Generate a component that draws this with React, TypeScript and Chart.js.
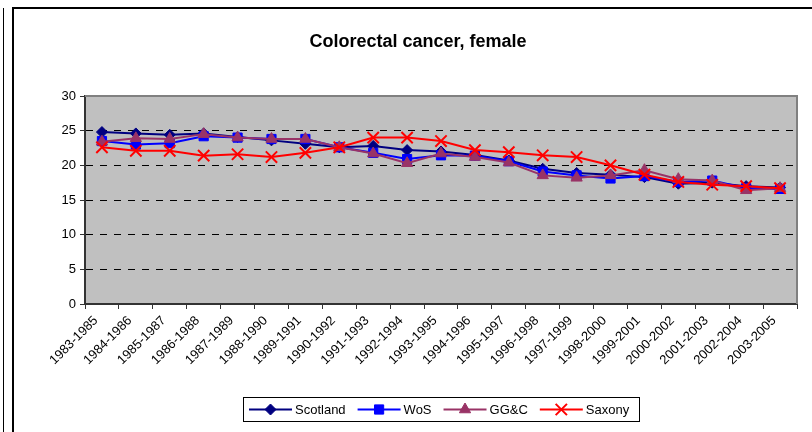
import React, { useEffect, useRef } from "react";
import { Chart, registerables } from "chart.js";

Chart.register(...registerables);

const categories = [
  "1983-1985", "1984-1986", "1985-1987", "1986-1988", "1987-1989", "1988-1990",
  "1989-1991", "1990-1992", "1991-1993", "1992-1994", "1993-1995", "1994-1996",
  "1995-1997", "1996-1998", "1997-1999", "1998-2000", "1999-2001", "2000-2002",
  "2001-2003", "2002-2004", "2003-2005",
];

const scotland = [24.8, 24.6, 24.4, 24.6, 24.1, 23.6, 23.1, 22.6, 22.8, 22.2, 22.0, 21.5, 20.7, 19.5, 18.9, 18.65, 18.3, 17.35, 17.5, 17.0, 16.8];
const wos = [23.5, 23.0, 23.2, 24.2, 24.0, 23.8, 23.8, 22.6, 21.8, 20.9, 21.45, 21.4, 20.6, 19.1, 18.55, 18.1, 18.45, 17.6, 17.8, 16.7, 16.6];
const ggc = [23.4, 23.9, 23.8, 24.5, 24.0, 23.8, 23.8, 22.6, 21.7, 20.3, 21.7, 21.2, 20.4, 18.55, 18.2, 18.55, 19.3, 18.0, 17.8, 16.4, 16.7];
const saxony = [22.6, 22.1, 22.1, 21.4, 21.6, 21.2, 21.8, 22.6, 24.0, 24.0, 23.5, 22.2, 21.9, 21.45, 21.2, 20.0, 18.65, 17.6, 17.2, 17.0, 16.7];

const seriesNames = ["Scotland", "WoS", "GG&C", "Saxony"];
const yTicks = [0, 5, 10, 15, 20, 25, 30];
const titleText = "Colorectal cancer, female";

const FONT = '"Liberation Sans", Arial, sans-serif';

function drawMarker(ctx: CanvasRenderingContext2D, style: string, x: number, y: number, r: number) {
  ctx.beginPath();
  if (style === "rectRot") {
    ctx.moveTo(x - r, y);
    ctx.lineTo(x, y - r);
    ctx.lineTo(x + r, y);
    ctx.lineTo(x, y + r);
    ctx.closePath();
    ctx.fill();
    ctx.stroke();
  } else if (style === "rect") {
    const s = Math.SQRT1_2 * r;
    ctx.rect(x - s, y - s, 2 * s, 2 * s);
    ctx.fill();
    ctx.stroke();
  } else if (style === "triangle") {
    for (let i = 0; i < 3; i++) {
      const a = (i * 2 * Math.PI) / 3;
      const px = x + Math.sin(a) * r;
      const py = y - Math.cos(a) * r;
      if (i === 0) ctx.moveTo(px, py);
      else ctx.lineTo(px, py);
    }
    ctx.closePath();
    ctx.fill();
    ctx.stroke();
  } else {
    const o = Math.SQRT1_2 * r;
    ctx.moveTo(x - o, y - o);
    ctx.lineTo(x + o, y + o);
    ctx.moveTo(x - o, y + o);
    ctx.lineTo(x + o, y - o);
    ctx.stroke();
  }
}

const decorPlugin = {
  id: "decor",
  beforeDraw(chart: any) {
    const ctx = chart.ctx;
    const { left, top, right, bottom } = chart.chartArea;
    ctx.save();
    ctx.fillStyle = "#ffffff";
    ctx.fillRect(0, 0, chart.width, chart.height);
    ctx.fillStyle = "#000000";
    ctx.fillRect(3, 8, 1, chart.height - 8);
    ctx.fillRect(12, 7, 2, chart.height - 7);
    ctx.fillRect(12, 7, chart.width - 12, 2);
    ctx.fillStyle = "#c0c0c0";
    ctx.fillRect(left, top, right - left, bottom - top);
    ctx.restore();
  },
  afterDraw(chart: any) {
    const ctx = chart.ctx;
    const { left, top, right, bottom } = chart.chartArea;
    ctx.save();
    ctx.strokeStyle = "#808080";
    ctx.lineWidth = 2;
    ctx.beginPath();
    ctx.moveTo(left, top);
    ctx.lineTo(right, top);
    ctx.lineTo(right, bottom);
    ctx.stroke();
    // title
    ctx.fillStyle = "#000";
    ctx.font = `bold 18px ${FONT}`;
    ctx.textAlign = "center";
    ctx.textBaseline = "middle";
    ctx.fillText(titleText, 418, 42);
    // legend
    const boxX = 243, boxY = 397, boxW = 396, boxH = 24;
    ctx.strokeStyle = "#000";
    ctx.lineWidth = 1;
    ctx.strokeRect(boxX + 0.5, boxY + 0.5, boxW, boxH);
    ctx.font = `13px ${FONT}`;
    ctx.textAlign = "left";
    const cy = boxY + boxH / 2 + 0.5;
    let x = 249;
    chart.data.datasets.forEach((ds: any) => {
      const lineLen = 43;
      ctx.strokeStyle = ds.borderColor;
      ctx.lineWidth = 2;
      ctx.beginPath();
      ctx.moveTo(x, cy);
      ctx.lineTo(x + lineLen, cy);
      ctx.stroke();
      ctx.fillStyle = ds.pointBackgroundColor;
      ctx.strokeStyle = ds.pointBorderColor;
      ctx.lineWidth = ds.pointBorderWidth;
      drawMarker(ctx, ds.pointStyle, x + lineLen / 2, cy, ds.pointRadius);
      ctx.fillStyle = "#000";
      ctx.fillText(ds.label, x + lineLen + 3, cy + 1);
      const w = ctx.measureText(ds.label).width;
      x = x + lineLen + 3 + w + 12;
    });
    ctx.restore();
  },
};

export default function App() {
  const ref = useRef<HTMLCanvasElement | null>(null);

  useEffect(() => {
    if (!ref.current) return;
    const mk = (label: string, data: number[], color: string, style: string, radius: number, order: number, bw = 1) => ({
      label,
      data,
      borderColor: color,
      backgroundColor: color,
      pointBackgroundColor: color,
      pointBorderColor: color,
      pointBorderWidth: bw,
      borderWidth: 2,
      pointStyle: style,
      pointRadius: radius,
      tension: 0,
      order,
    });
    const chart = new Chart(ref.current, {
      type: "line",
      data: {
        labels: categories,
        datasets: [
          mk(seriesNames[0], scotland, "#000080", "rectRot", 5.5, 3),
          mk(seriesNames[1], wos, "#0000ff", "rect", 6.5, 2),
          mk(seriesNames[2], ggc, "#993366", "triangle", 6.5, 1),
          mk(seriesNames[3], saxony, "#ff0000", "crossRot", 8, 0, 2),
        ] as any,
      },
      options: {
        responsive: false,
        animation: false,
        devicePixelRatio: 1,
        layout: { padding: { top: 96, right: 15, bottom: 48, left: 0 } },
        plugins: {
          legend: { display: false },
          title: { display: false },
          tooltip: { enabled: false },
        },
        scales: {
          x: {
            type: "category",
            offset: true,
            grid: {
              offset: true,
              drawOnChartArea: false,
              drawTicks: true,
              tickLength: 5,
              tickColor: "#333",
              tickWidth: 1,
            },
            border: { display: true, color: "#333", width: 2 },
            ticks: {
              autoSkip: false,
              maxRotation: 45,
              minRotation: 45,
              color: "#000",
              font: { family: FONT, size: 13 },
              padding: 4,
              labelOffset: -6,
            },
            afterFit(scale: any) {
              scale.height = 80;
              scale.paddingLeft = 0;
              scale.paddingRight = 0;
            },
          },
          y: {
            min: 0,
            max: 30,
            afterBuildTicks(scale: any) {
              scale.ticks = yTicks.map((v) => ({ value: v }));
            },
            grid: {
              color: "#000",
              lineWidth: 1,
              drawTicks: true,
              tickLength: 5,
              tickColor: "#333",
              tickBorderDash: [],
            },
            border: { display: true, color: "#333", width: 2, dash: [7, 7] },
            ticks: {
              color: "#000",
              font: { family: FONT, size: 13 },
              padding: 4,
            },
            afterFit(scale: any) {
              scale.width = 85;
              scale.paddingTop = 0;
              scale.paddingBottom = 0;
            },
          },
        },
      },
      plugins: [decorPlugin],
    });
    return () => chart.destroy();
  }, []);

  return (
    <div style={{ position: "fixed", left: 0, top: 0, width: 812, height: 432 }}>
      <canvas ref={ref} width={812} height={432} style={{ display: "block", width: 812, height: 432 }} />
    </div>
  );
}
